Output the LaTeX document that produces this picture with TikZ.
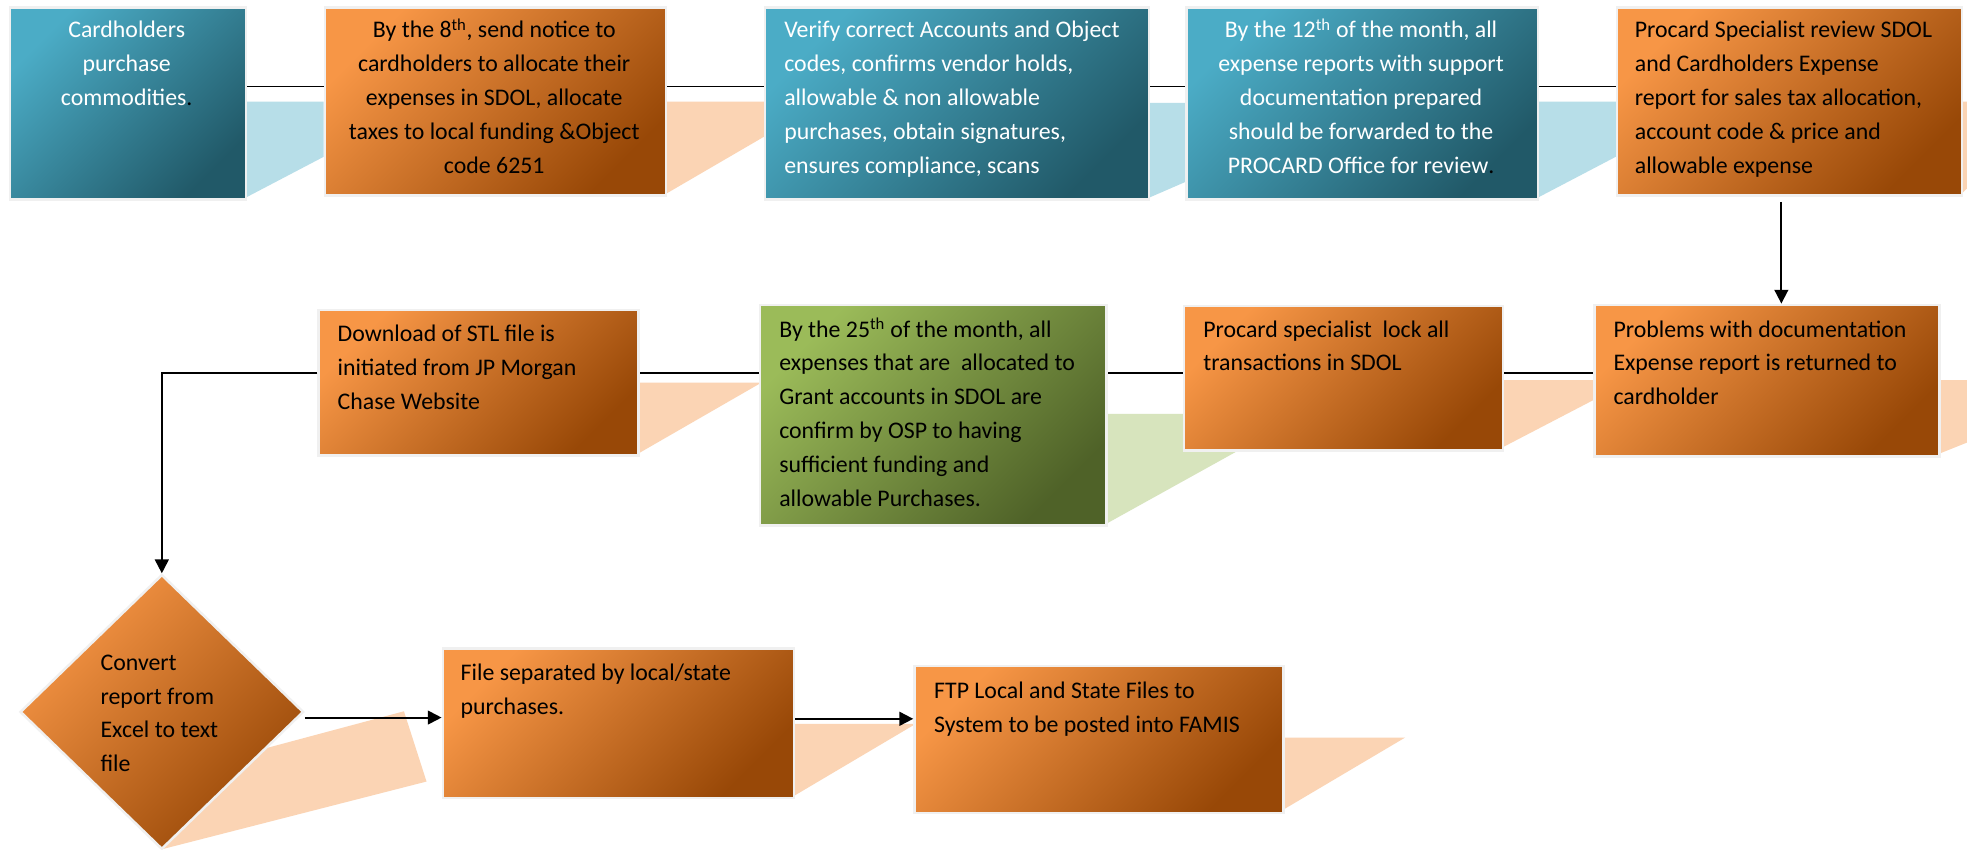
\documentclass[tikz,border=0pt]{standalone}
\usepackage{fontspec}
\setmainfont{Carlito}
\usetikzlibrary{arrows.meta,shapes.geometric}
\definecolor{tealL}{HTML}{4BACC6}
\definecolor{tealD}{HTML}{215968}
\definecolor{orgL}{HTML}{F79646}
\definecolor{orgD}{HTML}{984807}
\definecolor{grnL}{HTML}{9BBB59}
\definecolor{grnD}{HTML}{4F6228}
\definecolor{shBlue}{HTML}{B7DEE8}
\definecolor{shPeach}{HTML}{FBD4B4}
\definecolor{shGreen}{HTML}{D7E4BD}
\definecolor{rim}{HTML}{F0F0F0}
\newcommand\boxfont{\fontsize{19}{27}\selectfont}
\begin{document}
\begin{tikzpicture}[x=1pt,y=-1pt,
  tealbox/.style={rectangle, inner sep=0pt, top color=tealL, bottom color=tealD, shading angle=45, draw=rim, line width=2pt, anchor=north west},
  orgbox/.style={rectangle, inner sep=0pt, top color=orgL, bottom color=orgD, shading angle=45, draw=rim, line width=2pt, anchor=north west},
  grnbox/.style={rectangle, inner sep=0pt, top color=grnL, bottom color=grnD, shading angle=45, draw=rim, line width=2pt, anchor=north west},
  orgdia/.style={diamond, inner sep=0pt, top color=orgL, bottom color=orgD, shading angle=45, draw=rim, line width=2pt},
  txt/.style={inner sep=0pt, font=\boxfont, align=left, anchor=north west, text=black},
  ctxt/.style={txt, align=center, anchor=north},
  conn/.style={draw=black, line width=1.5pt},
  arr/.style={conn, -{Triangle[length=11pt,width=11pt]}},
  shade1/.style={fill=shBlue, draw=none},
  shade2/.style={fill=shPeach, draw=none},
  shade3/.style={fill=shGreen, draw=none}
]
\useasboundingbox (0,0) rectangle (1568,677);
\clip (0,0) rectangle (1568,677);
\fill[white] (0,0) rectangle (1568,677);

% shadow shapes
\path[shade1] (195,81) -- (258,81) -- (258,125) -- (195,158) -- cycle;
\path[shade2] (530,81) -- (609,81) -- (609,109) -- (530,155) -- cycle;
\path[shade1] (915,82) -- (945,82) -- (945,145) -- (915,158) -- cycle;
\path[shade1] (1225,81) -- (1288,81) -- (1288,125) -- (1225,158) -- cycle;
\path[shade2] (1563,81) -- (1600,81) -- (1600,120) -- (1563,155) -- cycle;
\path[shade2] (1545,303) -- (1600,303) -- (1600,340) -- (1545,362) -- cycle;
\path[shade2] (1197,303) -- (1270,303) -- (1270,319) -- (1197,357) -- cycle;
\path[shade3] (881,330) -- (1000,330) -- (1000,352) -- (881,418) -- cycle;
\path[shade2] (508,305) -- (607,305) -- (508,362) -- cycle;
\path[shade2] (180,605) -- (322,567) -- (340,623) -- (129,677) -- cycle;
\path[shade2] (632,577) -- (730,577) -- (632,635) -- cycle;
\path[shade2] (1022,588) -- (1120,588) -- (1022,646) -- cycle;

% boxes
\node[tealbox, minimum width=188pt, minimum height=153pt] (b1) at (7,5) {};
\node[orgbox, minimum width=272pt, minimum height=150pt] (b2) at (258,5) {};
\node[tealbox, minimum width=306pt, minimum height=153pt] (b3) at (609,5) {};
\node[tealbox, minimum width=280pt, minimum height=153pt] (b4) at (945,5) {};
\node[orgbox, minimum width=275pt, minimum height=150pt] (b5) at (1288,5) {};
\node[orgbox, minimum width=275pt, minimum height=121pt] (prob) at (1270,242) {};
\node[orgbox, minimum width=254pt, minimum height=115pt] (lock) at (943,243) {};
\node[grnbox, minimum width=276pt, minimum height=176pt] (green) at (605,242) {};
\node[orgbox, minimum width=255pt, minimum height=116pt] (dl) at (253,246) {};
\node[orgdia, minimum width=226pt, minimum height=219pt] (dia) at (129,567.5) {};
\node[orgbox, minimum width=280pt, minimum height=119pt] (file) at (352,516) {};
\node[orgbox, minimum width=294pt, minimum height=117pt] (ftp) at (728,530) {};

% connectors
\coordinate (r1) at (0,69);
\coordinate (r2) at (0,297);
\coordinate (r3) at (0,572);
\coordinate (r4) at (0,573);
\coordinate (ax) at (1420,0);
\draw[conn] (b1.east |- r1) -- (b2.west |- r1);
\draw[conn] (b2.east |- r1) -- (b3.west |- r1);
\draw[conn] (b3.east |- r1) -- (b4.west |- r1);
\draw[conn] (b4.east |- r1) -- (b5.west |- r1);
\draw[arr, shorten <=4pt] (ax |- b5.south) -- (ax |- prob.north);
\draw[conn] (prob.west |- r2) -- (lock.east |- r2);
\draw[conn] (lock.west |- r2) -- (green.east |- r2);
\draw[conn] (green.west |- r2) -- (dl.east |- r2);
\draw[arr] (dl.west |- r2) -| (dia.north);
\draw[arr] (dia.east |- r3) -- (file.west |- r3);
\draw[arr] (file.east |- r4) -- (ftp.west |- r4);

% texts
\node[ctxt, text=white] (t1) at (101,11.1) {\strut Cardholders\\purchase\\commodities{\color{black}.}};
\node[ctxt] (t2) at (394,11.1) {\strut By the 8\textsuperscript{th}, send notice to\\cardholders to allocate their\\expenses in SDOL, allocate\\taxes to local funding \&Object\\code 6251};
\node[txt, text=white] (t3) at (625,11.1) {\strut Verify correct Accounts and Object\\codes, confirms vendor holds,\\allowable \& non allowable\\purchases, obtain signatures,\\ensures compliance, scans};
\node[ctxt, text=white] (t4) at (1085,11.1) {\strut By the 12\textsuperscript{th} of the month, all\\expense reports with support\\documentation prepared\\should be forwarded to the\\PROCARD Office for review{\color{black}.}};
\node[txt] (t5) at (1303,11.1) {\strut Procard Specialist review SDOL\\and Cardholders Expense\\report for sales tax allocation,\\account code \& price and\\allowable expense};
\node[txt] (t6) at (1286,249.6) {\strut Problems with documentation\\Expense report is returned to\\cardholder};
\node[txt] (t7) at (959,249.6) {\strut Procard specialist\ \ lock all\\transactions in SDOL};
\node[txt] (t8) at (621,249.6) {\strut By the 25\textsuperscript{th} of the month, all\\expenses that are\ \ allocated to\\Grant accounts in SDOL are\\confirm by OSP to having\\sufficient funding and\\allowable Purchases.};
\node[txt] (t9) at (269,253.1) {\strut Download of STL file is\\initiated from JP Morgan\\Chase Website};
\node[txt] (t10) at (80,515.1) {\strut Convert\\report from\\Excel to text\\file};
\node[txt] (t11) at (367,523.6) {\strut File separated by local/state\\purchases.};
\node[txt] (t12) at (744.5,537.7) {\strut FTP Local and State Files to\\System to be posted into FAMIS};
\end{tikzpicture}
\end{document}
